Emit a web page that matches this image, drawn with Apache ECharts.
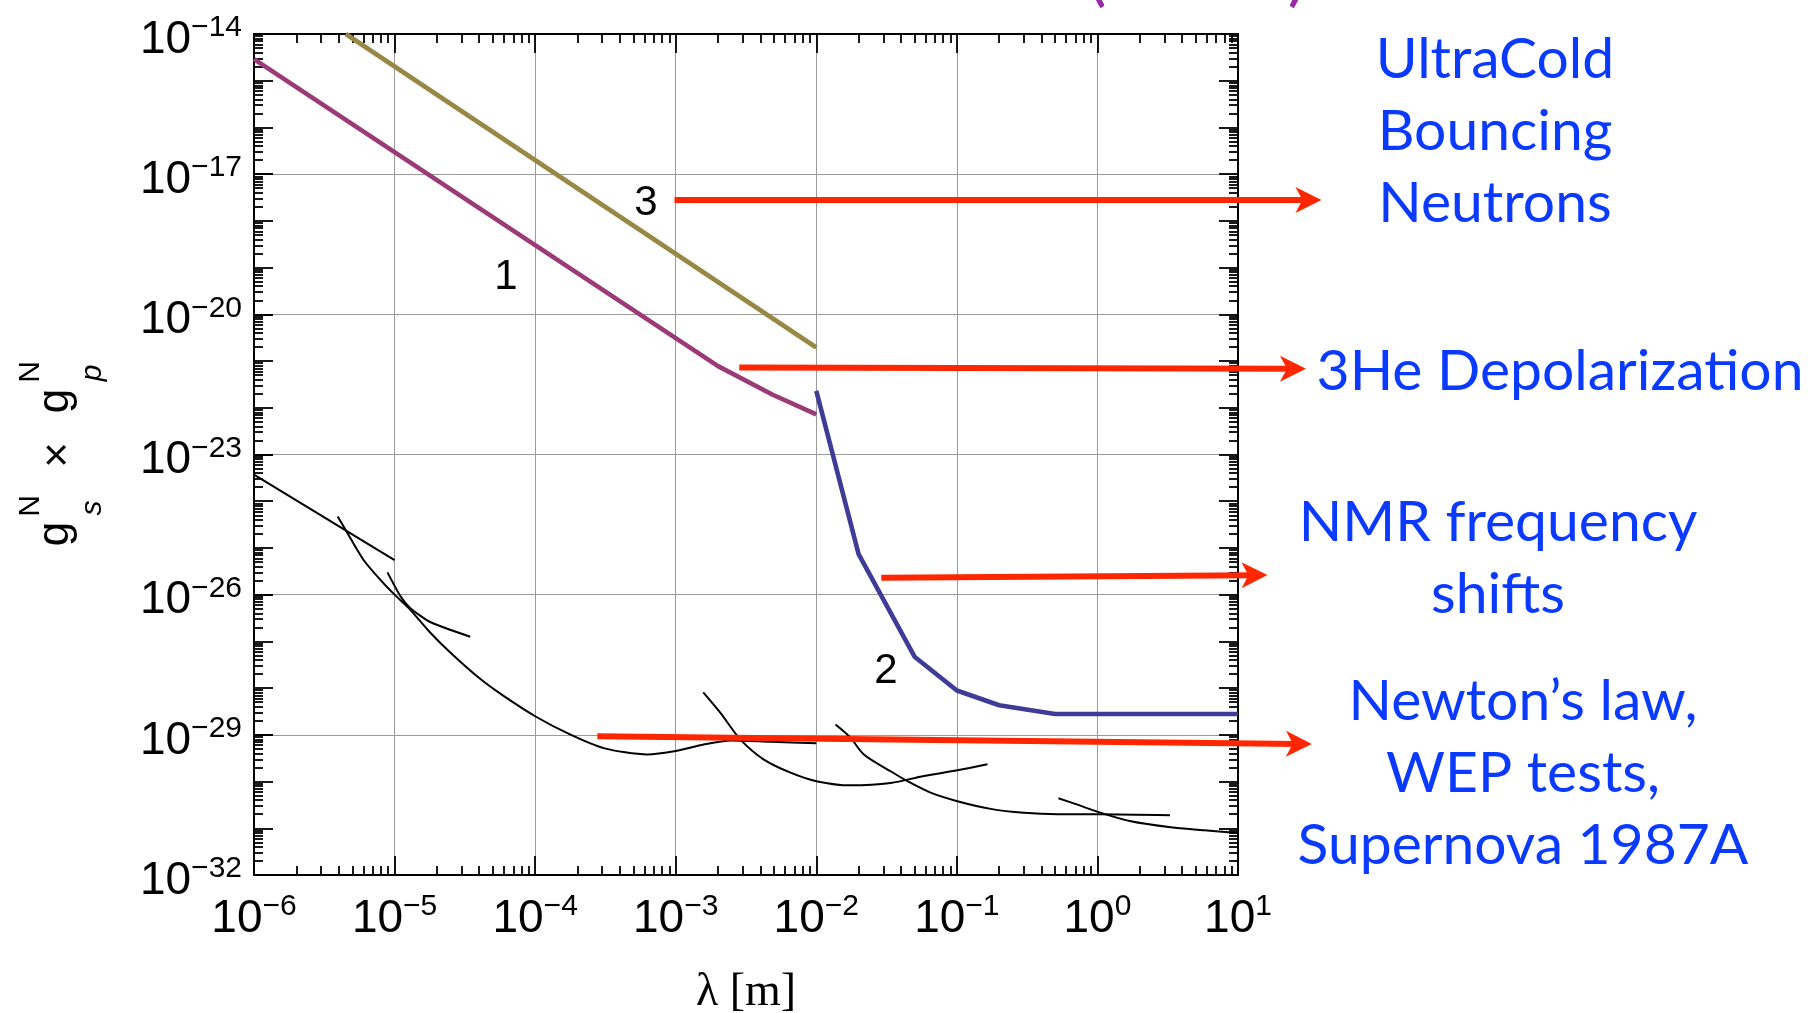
<!DOCTYPE html>
<html>
<head>
<meta charset="utf-8">
<script src="https://cdn.jsdelivr.net/npm/echarts@6/dist/echarts.min.js"></script>
<style>
html, body { margin: 0; padding: 0; background: #fff; }
#chart { width: 1811px; height: 1013px; }
</style>
</head>
<body>
<div id="chart"></div>
<script>
// axis decades (powers of ten)
var xDecades = [-6, -5, -4, -3, -2, -1, 0, 1];
var yDecades = [-32, -31, -30, -29, -28, -27, -26, -25, -24, -23, -22, -21, -20, -19, -18, -17, -16, -15, -14];
var yLabelDecades = [-32, -29, -26, -23, -20, -17, -14];

// curve 1 (purple)
var lambda1 = [1e-6, 2.0e-3, 4.9e-3, 1.0e-2];
var g1 = [2.9e-15, 7.8e-22, 1.9e-22, 7.2e-23];
// curve 3 (olive)
var lambda3 = [4.5e-6, 1.0e-2];
var g3 = [1.0e-14, 1.95e-21];
// curve 2 (blue)
var lambda2 = [1.0e-2, 2.0e-2, 5.0e-2, 0.1, 0.2, 0.5, 10];
var g2 = [2.3e-22, 7.4e-26, 4.7e-28, 8.9e-29, 4.3e-29, 2.8e-29, 2.8e-29];

// black limit curves
var lambdaA = [1e-6, 1e-5];
var gA = [3.7e-24, 5.5e-26];
var lambdaB = [3.94e-6, 4.57e-6, 6.0e-6, 7.9e-6, 1e-5, 1.29e-5, 1.79e-5, 2.49e-5, 4.06e-5, 5.96e-5, 1e-4, 1.77e-4, 3.07e-4, 6.25e-4, 1e-3, 1.58e-3, 2.45e-3, 4.72e-3, 1e-2];
var gB = [4.7e-25, 2.2e-25, 5.6e-26, 2.1e-26, 1e-26, 4.8e-27, 1.55e-27, 5.8e-28, 1.58e-28, 6.8e-29, 2.5e-29, 1.02e-29, 5.2e-30, 3.8e-30, 4.5e-30, 6.2e-30, 7.6e-30, 7.1e-30, 6.6e-30];
var lambdaC = [8.9e-6, 1.10e-5, 1.29e-5, 1.79e-5, 3.45e-5];
var gC = [3.0e-26, 9.3e-27, 5.2e-27, 2.6e-27, 1.26e-27];
var lambdaD = [1.57e-3, 2.08e-3, 2.89e-3, 4.24e-3, 6.56e-3, 1e-2, 1.75e-2, 3.38e-2, 5.83e-2, 0.101, 0.165];
var gD = [8.1e-29, 2.95e-29, 7.9e-30, 2.95e-30, 1.55e-30, 1.02e-30, 8.3e-31, 9.3e-31, 1.32e-30, 1.74e-30, 2.34e-30];
var lambdaE = [1.37e-2, 1.75e-2, 2.18e-2, 3.38e-2, 4.45e-2, 6.5e-2, 0.101, 0.174, 0.30, 0.52, 1.01, 3.28];
var gE = [1.66e-29, 8.7e-30, 3.8e-30, 1.66e-30, 1.02e-30, 5.8e-31, 3.8e-31, 2.6e-31, 2.14e-31, 2.0e-31, 2.0e-31, 1.9e-31];
var lambdaF = [0.528, 0.721, 1.01, 1.73, 3.33, 5.75, 10];
var gF = [4.4e-31, 3.2e-31, 2.24e-31, 1.41e-31, 1.05e-31, 9.1e-32, 7.9e-32];

// red arrows pointing to the experiment labels: [lambda, g] start and end
var arrowUCN = [[9.8e-4, 2.79e-18], [31.7, 2.79e-18]];
var arrowHe = [[2.83e-3, 7.28e-22], [24.6, 6.82e-22]];
var arrowNMR = [[2.9e-2, 2.31e-26], [13.1, 2.61e-26]];
var arrowNewton = [[2.77e-4, 9.31e-30], [27.1, 6.4e-30]];

function pairs(xs, ys) {
  return xs.map(function (x, i) { return [x, ys[i]]; });
}
function ticksFor(decades, mults) {
  var out = [];
  decades.forEach(function (d) {
    mults.forEach(function (k) { out.push(Number(k + 'e' + d)); });
  });
  return out;
}
var xMajor = ticksFor(xDecades, [1]);
var xMinor = ticksFor(xDecades.slice(0, -1), [2, 3, 4, 5, 6, 7, 8, 9]);
var yMajor = ticksFor(yDecades, [1]);
var yMinor = ticksFor(yDecades.slice(0, -1), [2, 3, 4, 5, 6, 7, 8, 9]);
var yLabels = ticksFor(yLabelDecades, [1]);

function powLabel(v) {
  var e = Math.round(Math.log10(v));
  return '{b|10}{s|' + (e < 0 ? '\u2212' + (-e) : e) + '}';
}
var labelRich = {
  b: { fontFamily: 'Liberation Sans', fontSize: 46, lineHeight: 54, color: '#000' },
  s: { fontFamily: 'Liberation Sans', fontSize: 30, lineHeight: 30, color: '#000', verticalAlign: 'top' }
};
var tickStyle = { color: '#000', width: 1.8 };
var gridLine = { show: true, lineStyle: { color: '#9a9a9a', width: 1 } };

function axis(dim, pos, ticks, len, extra) {
  var a = {
    type: 'log',
    position: pos,
    min: dim === 'x' ? 1e-6 : 1e-32,
    max: dim === 'x' ? 10 : 1e-14,
    axisLine: { show: true, onZero: false, lineStyle: { color: '#000', width: 2 } },
    axisTick: { show: true, inside: true, length: len, customValues: ticks, lineStyle: tickStyle },
    axisLabel: { show: false },
    splitLine: { show: false }
  };
  return Object.assign(a, extra || {});
}

var chart = echarts.init(document.getElementById('chart'));

function curve(xs, ys, color, width, smooth, z) {
  return {
    type: 'line',
    data: pairs(xs, ys),
    showSymbol: false,
    symbol: 'none',
    smooth: smooth,
    z: z,
    lineStyle: { color: color, width: width },
    xAxisIndex: 0,
    yAxisIndex: 0
  };
}

var arrowHead = 'path://M0,0L13,26L0,19L-13,26Z';

function txt(x, y, text, font, color, align, rot) {
  return {
    type: 'text',
    x: x,
    y: y,
    rotation: rot || 0,
    z: 100,
    style: {
      text: text,
      font: font,
      fill: color,
      align: align || 'center',
      textAlign: align || 'center',
      verticalAlign: 'middle',
      textVerticalAlign: 'middle',
      lineHeight: 72
    }
  };
}

var blue = '#0a3aff';
var labelFont = '57px Lato';

chart.setOption({
  animation: false,
  backgroundColor: '#fff',
  grid: { left: 254, top: 34, width: 984, height: 841, containLabel: false, outerBoundsMode: 'none' },
  xAxis: [
    axis('x', 'bottom', xMajor, 19, {
      axisLabel: { show: true, customValues: xMajor, formatter: powLabel, rich: labelRich, margin: 17 },
      splitLine: gridLine,
      name: '\u03bb [m]',
      nameLocation: 'middle',
      nameGap: 95,
      nameTextStyle: { fontFamily: 'Liberation Serif', fontSize: 46, color: '#000' }
    }),
    axis('x', 'bottom', xMinor, 9),
    axis('x', 'top', xMajor, 19),
    axis('x', 'top', xMinor, 9)
  ],
  yAxis: [
    axis('y', 'left', yLabels, 19, {
      axisLabel: { show: true, customValues: yLabels, formatter: powLabel, rich: labelRich, margin: 12, padding: [12, 0, 0, 0] },
      splitLine: gridLine
    }),
    axis('y', 'left', yMajor, 19),
    axis('y', 'left', yMinor, 9),
    axis('y', 'right', yMajor, 19),
    axis('y', 'right', yMinor, 9)
  ],
  series: [
    curve(lambdaA, gA, '#000', 2, false, 3),
    curve(lambdaB, gB, '#000', 2, 0.25, 3),
    curve(lambdaC, gC, '#000', 2, 0.2, 3),
    curve(lambdaD, gD, '#000', 2, 0.3, 3),
    curve(lambdaE, gE, '#000', 2, 0.3, 3),
    curve(lambdaF, gF, '#000', 2, 0.3, 3),
    curve(lambda1, g1, '#9a3b78', 4.6, false, 4),
    curve(lambda3, g3, '#998844', 4.6, false, 4),
    curve(lambda2, g2, '#3f3c98', 4.6, false, 4),
    {
      type: 'lines',
      coordinateSystem: 'cartesian2d',
      xAxisIndex: 0,
      yAxisIndex: 0,
      clip: false,
      z: 10,
      symbol: ['none', arrowHead],
      symbolSize: 26,
      lineStyle: { color: '#ff2600', width: 6, opacity: 1, curveness: 0 },
      data: [
        { coords: arrowUCN },
        { coords: arrowHe },
        { coords: arrowNMR },
        { coords: arrowNewton }
      ]
    }
  ],
  graphic: {
    elements: [
      // y axis title: g_s^N x g_p^N, rotated
      txt(56, 534, 'g', '44px "Liberation Sans"', '#000', 'center', Math.PI / 2),
      txt(31, 506, 'N', '30px "Liberation Sans"', '#000', 'center', Math.PI / 2),
      txt(93, 508, 's', 'italic 30px "Liberation Sans"', '#000', 'center', Math.PI / 2),
      txt(59, 455, '\u00d7', '44px "Liberation Sans"', '#000', 'center', Math.PI / 2),
      txt(56, 401, 'g', '44px "Liberation Sans"', '#000', 'center', Math.PI / 2),
      txt(31, 372, 'N', '30px "Liberation Sans"', '#000', 'center', Math.PI / 2),
      txt(93, 373, 'p', 'italic 30px "Liberation Sans"', '#000', 'center', Math.PI / 2),
      // curve numbers
      txt(506, 277, '1', '42px "Liberation Sans"', '#000'),
      txt(886, 671, '2', '42px "Liberation Sans"', '#000'),
      txt(646, 203, '3', '42px "Liberation Sans"', '#000'),
      // experiment labels
      txt(1495, 132, 'UltraCold\nBouncing\nNeutrons', labelFont, blue),
      txt(1560, 372, '3He Depolarization', labelFont, blue),
      txt(1498, 559, 'NMR frequency\nshifts', labelFont, blue),
      txt(1523, 774, 'Newton\u2019s law,\nWEP tests,\nSupernova 1987A', labelFont, blue),
      // clipped title brackets at the top edge
      txt(1097, -25, '(', '70px Lato', '#9b2aa8'),
      txt(1297, -25, ')', '70px Lato', '#9b2aa8')
    ]
  }
});
</script>
</body>
</html>
